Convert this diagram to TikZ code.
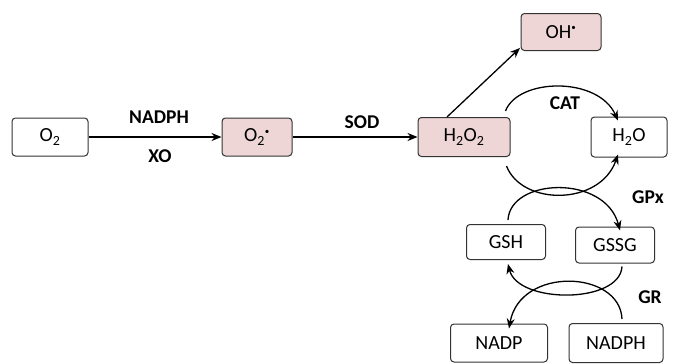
\documentclass[tikz,border=0pt]{standalone}
\usepackage{fontspec}
\setmainfont{Carlito}
\usetikzlibrary{arrows.meta,calc}
\definecolor{pinkfill}{RGB}{238,214,214}
\newcommand{\rdot}{\textsuperscript{\fontsize{9}{9}\selectfont\textbullet}}
\begin{document}
\begin{tikzpicture}[x=1pt,y=-1pt,
 box/.style={draw=black!80, rounded corners=3.5pt, line width=1pt, minimum height=38pt, inner sep=0pt, font=\fontsize{20}{23}\selectfont},
 rbox/.style={box, fill=pinkfill},
 lab/.style={font=\bfseries\fontsize{19.5}{22}\selectfont},
 arr/.style={-{Stealth[length=10pt,width=8pt]}, line width=1.3pt}]
\useasboundingbox (0,0) rectangle (673,364);
\node[box, minimum width=76pt] (o2) at (50,137) {O\textsubscript{2}};
\node[rbox, minimum width=70pt] (sup) at (257,137) {O\textsubscript{2}\rdot};
\node[rbox, minimum width=92pt, minimum height=39pt] (hp) at (464,137) {H\textsubscript{2}O\textsubscript{2}};
\node[rbox, minimum width=80pt, minimum height=37pt] (oh) at (561,32) {OH\rdot};
\node[box, minimum width=76pt, minimum height=40pt] (w) at (629,137) {H\textsubscript{2}O};
\node[box, minimum width=79pt, minimum height=35pt] (gsh) at (506,242) {GSH};
\node[box, minimum width=79pt, minimum height=36pt] (gssg) at (615,245) {GSSG};
\node[box, minimum width=97pt] (nadp) at (499,343) {NADP};
\node[box, minimum width=94pt, minimum height=39pt] (nadph) at (616,343) {NADPH};

\node[lab] (l1) at (159,117) {NADPH};
\node[lab] (l2) at (160,156) {XO};
\node[lab] (l3) at (362,122) {SOD};
\node[lab] (l4) at (565,103) {CAT};
\node[lab] (l5) at (648,197) {GPx};
\node[lab] (l6) at (650,297) {GR};

\draw[arr] (o2) -- (sup);
\draw[arr] (sup) -- (hp);
\draw[arr] ([xshift=-17pt]hp.north) -- ([xshift=-41pt,yshift=3pt]oh.south);
% CAT arc
\draw[arr] ([xshift=-5pt,yshift=6pt]hp.north east) .. controls (518,78) and (598,76) .. ([xshift=-11pt,yshift=-4pt]w.north);
% lower arc H2O2 -> H2O
\draw[arr] ([xshift=-4pt,yshift=-9pt]hp.south east) .. controls (522,206) and (600,206) .. ([xshift=-11pt,yshift=3pt]w.south);
% GPx arc GSH -> GSSG
\draw[arr] ([xshift=2pt,yshift=4pt]gsh.north) .. controls (510,178) and (605,174) .. ([xshift=5pt,yshift=-4pt]gssg.north);
% GR arc GSSG -> GSH
\draw[arr] ([xshift=7pt,yshift=-3pt]gssg.south) .. controls (620,304) and (518,304) .. ([xshift=2pt,yshift=-4pt]gsh.south);
% NADPH -> NADP
\draw[arr] ([xshift=6pt,yshift=4pt]nadph.north) .. controls (620,270) and (520,266) .. ([xshift=10pt,yshift=-5pt]nadp.north);
\end{tikzpicture}
\end{document}
